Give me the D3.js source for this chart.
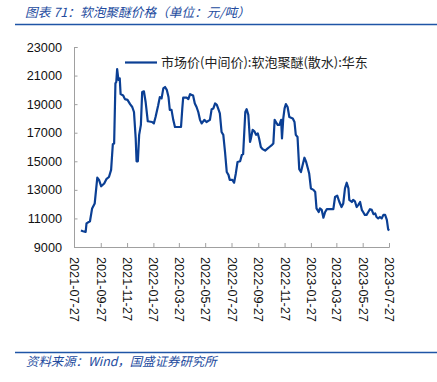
<!DOCTYPE html>
<html>
<head>
<meta charset="utf-8">
<script src="https://cdn.jsdelivr.net/npm/d3@7"></script>
<style>
  body { margin: 0; background: #fff; }
  svg { display: block; }
</style>
</head>
<body>
<div id="chart"></div>
<script>
// dates and prices (yuan / ton)
const dates = [
  "2021-08-12","2021-08-17","2021-08-23","2021-08-25","2021-09-02","2021-09-07","2021-09-13","2021-09-19",
  "2021-09-23","2021-09-28","2021-10-05","2021-10-10","2021-10-16","2021-10-21","2021-10-25","2021-10-28",
  "2021-10-31","2021-11-02","2021-11-04","2021-11-07","2021-11-10","2021-11-12","2021-11-18","2021-11-22",
  "2021-11-28","2021-12-04","2021-12-09","2021-12-13","2021-12-17","2021-12-19","2021-12-22","2021-12-25",
  "2021-12-29","2022-01-01","2022-01-05","2022-01-09","2022-01-14","2022-01-24","2022-01-28","2022-02-01",
  "2022-02-07","2022-02-11","2022-02-15","2022-02-19","2022-02-23","2022-02-27","2022-03-03","2022-03-06",
  "2022-03-10","2022-03-14","2022-03-18","2022-04-01","2022-04-04","2022-04-06","2022-04-14","2022-04-18",
  "2022-04-22","2022-04-29","2022-05-03","2022-05-07","2022-05-11","2022-05-15","2022-05-19","2022-05-25",
  "2022-05-30","2022-06-07","2022-06-11","2022-06-15","2022-06-19","2022-06-23","2022-06-26","2022-06-30",
  "2022-07-04","2022-07-08","2022-07-12","2022-07-16","2022-07-20","2022-07-23","2022-07-29","2022-08-02",
  "2022-08-06","2022-08-10","2022-08-16","2022-08-20","2022-08-23","2022-08-28","2022-08-31","2022-09-04",
  "2022-09-08","2022-09-10","2022-09-14","2022-09-18","2022-09-22","2022-09-26","2022-09-29","2022-10-03",
  "2022-10-07","2022-10-13","2022-10-19","2022-10-23","2022-10-29","2022-11-01","2022-11-04","2022-11-07",
  "2022-11-11","2022-11-15","2022-11-19","2022-11-21","2022-11-24","2022-11-27","2022-11-30","2022-12-04",
  "2022-12-08","2022-12-12","2022-12-16","2022-12-20","2022-12-23","2022-12-27","2022-12-31","2023-01-04",
  "2023-01-08","2023-01-12","2023-01-16","2023-01-20","2023-01-23","2023-01-27","2023-02-02","2023-02-06",
  "2023-02-09","2023-02-14","2023-02-17","2023-02-21","2023-02-25","2023-03-01","2023-03-05","2023-03-20",
  "2023-03-24","2023-03-29","2023-04-03","2023-04-08","2023-04-12","2023-04-16","2023-04-20","2023-04-24",
  "2023-04-26","2023-05-02","2023-05-05","2023-05-09","2023-05-13","2023-05-17","2023-05-21","2023-05-25",
  "2023-05-28","2023-06-01","2023-06-05","2023-06-09","2023-06-13","2023-06-17","2023-06-21","2023-06-25",
  "2023-06-28","2023-07-02","2023-07-06","2023-07-10","2023-07-14","2023-07-18","2023-07-22","2023-07-25",
  "2023-07-27"
];
const prices = [
  10150,10100,10050,10650,10800,11700,12050,13850,
  13700,13250,13450,13750,13900,14400,16200,16250,
  20450,20550,21450,20700,20800,19700,19600,19350,
  19300,19000,18800,18450,16600,15000,15000,16850,
  17550,19850,19900,19150,17800,17750,17650,18100,
  18900,19500,19400,20100,20200,20000,19500,18600,
  18600,17900,17400,17400,18700,19450,19450,19350,
  19700,19600,19050,18800,18450,17900,17650,17900,
  17750,17900,18650,18700,19050,18950,18700,18350,
  17050,16850,15650,14250,14050,13700,13700,13500,
  14150,14950,15000,15450,15500,18450,18650,18250,
  16350,16600,17200,17100,16850,16950,16600,16000,
  15850,15750,15900,16000,16150,16250,17900,17750,
  17550,17550,17900,16600,18000,18700,19000,18800,
  18100,18050,18000,17750,16850,16700,14450,14250,
  14750,15250,14950,14500,14150,13100,13000,12850,
  11700,11450,11700,11600,11050,11450,11650,11650,
  12500,12600,12150,11800,12050,13100,13500,13100,
  12300,12150,12300,12200,11800,11950,12150,11600,
  11450,11250,11250,11450,11650,11600,11300,11350,
  11100,11000,11100,11000,11250,11250,10900,10250,
  10150
];

const xTicks = [
  "2021-07-27","2021-09-27","2021-11-27","2022-01-27","2022-03-27","2022-05-27","2022-07-27",
  "2022-09-27","2022-11-27","2023-01-27","2023-03-27","2023-05-27","2023-07-27"
];
const yTicks = [9000, 11000, 13000, 15000, 17000, 19000, 21000, 23000];

const titleText = "图表 71：软泡聚醚价格（单位：元/吨）";
const legendText = "市场价(中间价):软泡聚醚(散水):华东";
const sourceText = "资料来源：Wind，国盛证券研究所";

const W = 437, H = 382;
const blue = "#234b9e";
const lineBlue = "#0b3f94";
const cjk = "'Noto Sans CJK SC', sans-serif";
const num = "'Liberation Sans', Arial, sans-serif";

const parse = d3.timeParse("%Y-%m-%d");
const data = dates.map((d, i) => ({ date: parse(d), value: prices[i] }));

const svg = d3.select("#chart")
  .append("svg")
  .attr("width", W)
  .attr("height", H);

// header and footer
svg.append("text")
  .attr("x", 25)
  .attr("y", 17)
  .attr("fill", blue)
  .style("font-family", cjk)
  .style("font-style", "italic")
  .style("font-size", "12.7px")
  .text(titleText);

svg.append("line")
  .attr("x1", 15).attr("x2", W)
  .attr("y1", 24.5).attr("y2", 24.5)
  .attr("stroke", "#1f55a6")
  .attr("stroke-width", 1.5);

svg.append("line")
  .attr("x1", 15).attr("x2", W)
  .attr("y1", 352.5).attr("y2", 352.5)
  .attr("stroke", "#1f55a6")
  .attr("stroke-width", 1.5);

svg.append("text")
  .attr("x", 26)
  .attr("y", 366)
  .attr("fill", blue)
  .style("font-family", cjk)
  .style("font-style", "italic")
  .style("font-size", "12.4px")
  .text(sourceText);

// scales
const x = d3.scaleTime()
  .domain([parse(xTicks[0]), parse(xTicks[xTicks.length - 1])])
  .range([74, 389]);

const y = d3.scaleLinear()
  .domain([9000, 23000])
  .range([247, 47]);

// y axis
const yAxis = svg.append("g")
  .attr("transform", "translate(74,0)")
  .call(d3.axisLeft(y).tickValues(yTicks).tickSize(-3.5).tickPadding(12).tickFormat(d3.format("d")));

yAxis.select(".domain").attr("stroke", "#a0a0a0");
yAxis.selectAll(".tick line").attr("stroke", "#a0a0a0");
yAxis.selectAll(".tick text")
  .attr("fill", "#111")
  .style("font-family", num)
  .style("font-size", "12.7px");

// x axis
const xAxis = svg.append("g")
  .attr("transform", "translate(0,247)")
  .call(d3.axisBottom(x).tickValues(xTicks.map(parse)).tickSize(-4).tickFormat(d3.timeFormat("%Y-%m-%d")));

xAxis.select(".domain").attr("stroke", "#a0a0a0");
xAxis.selectAll(".tick line").attr("stroke", "#a0a0a0");
xAxis.selectAll(".tick text")
  .attr("fill", "#111")
  .attr("transform", "rotate(90)")
  .attr("x", 10)
  .attr("y", 0)
  .attr("dy", "0.35em")
  .attr("text-anchor", "start")
  .style("font-family", num)
  .style("font-size", "12.7px");

// price line
const line = d3.line()
  .x(d => x(d.date))
  .y(d => y(d.value));

svg.append("path")
  .datum(data)
  .attr("fill", "none")
  .attr("stroke", lineBlue)
  .attr("stroke-width", 2.2)
  .attr("stroke-linejoin", "round")
  .attr("d", line);

// legend
svg.append("line")
  .attr("x1", 125).attr("x2", 157)
  .attr("y1", 62.5).attr("y2", 62.5)
  .attr("stroke", lineBlue)
  .attr("stroke-width", 2.2);

svg.append("text")
  .attr("x", 161)
  .attr("y", 67)
  .attr("fill", "#222")
  .style("font-family", cjk)
  .style("font-size", "13px")
  .text(legendText);
</script>
</body>
</html>
